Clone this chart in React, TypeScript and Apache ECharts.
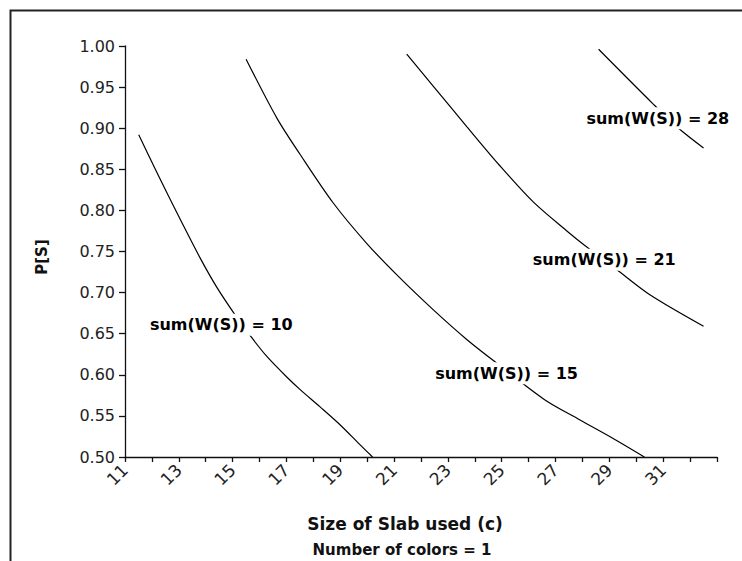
import React, { useEffect, useRef } from "react";
import * as echarts from "echarts";

// x axis: size of slab used (c); y axis: P[S]
const xMin = 11;
const xMax = 33;
const yMin = 0.5;
const yMax = 1.0;

// curve sum(W(S)) = 10
const curve10X = [11.51, 12.1, 12.52, 13.07, 13.81, 14.42, 15.11, 15.69, 16.28, 17.02, 17.51, 18.25, 19.0, 19.73, 20.2];
const curve10Y = [0.892, 0.852, 0.824, 0.788, 0.741, 0.706, 0.672, 0.646, 0.622, 0.597, 0.582, 0.561, 0.539, 0.515, 0.5];

// curve sum(W(S)) = 15
const curve15X = [15.5, 16.65, 17.51, 18.74, 19.98, 21.15, 22.46, 23.7, 24.82, 26.58, 27.91, 29.22, 30.3];
const curve15Y = [0.984, 0.912, 0.868, 0.809, 0.76, 0.72, 0.679, 0.643, 0.614, 0.57, 0.545, 0.521, 0.5];

// curve sum(W(S)) = 21
const curve21X = [21.47, 22.46, 23.7, 24.94, 26.18, 27.42, 28.1, 29.27, 30.52, 32.5];
const curve21Y = [0.99, 0.951, 0.902, 0.854, 0.81, 0.775, 0.757, 0.728, 0.697, 0.659];

// curve sum(W(S)) = 28
const curve28X = [28.6, 30.64, 31.57, 32.5];
const curve28Y = [0.996, 0.929, 0.9, 0.876];

// curve labels
const labelTexts = ["sum(W(S)) = 10", "sum(W(S)) = 15", "sum(W(S)) = 21", "sum(W(S)) = 28"];
const labelX = [14.58, 25.18, 28.81, 30.8];
const labelY = [0.661, 0.602, 0.74, 0.912];

const xTitle = "Size of Slab used (c)";
const subTitle = "Number of colors = 1";
const yTitle = "P[S]";

const zip = (xs: number[], ys: number[]) => xs.map((x, i) => [x, ys[i]]);

const FONT = "DejaVu Sans";

export default function App() {
  const ref = useRef<HTMLDivElement>(null);
  useEffect(() => {
    document.body.style.margin = "0";
    const chart = echarts.init(ref.current!, null, { renderer: "svg" });
    const lineSeries = (name: string, xs: number[], ys: number[]) => ({
      name,
      type: "line",
      data: zip(xs, ys),
      showSymbol: false,
      symbol: "none",
      smooth: 0.3,
      lineStyle: { color: "#000", width: 1.2 },
      z: 2,
      silent: true,
    });
    chart.setOption({
      animation: false,
      backgroundColor: "#fff",
      grid: { left: 125, right: 25, top: 46, bottom: 104 },
      xAxis: {
        type: "value",
        min: xMin,
        max: xMax,
        interval: 1,
        axisLine: { show: true, lineStyle: { color: "#111", width: 1.3 } },
        axisTick: { show: true, length: 5, lineStyle: { color: "#111", width: 1.3 } },
        splitLine: { show: false },
        axisLabel: {
          rotate: 45,
          margin: 10,
          fontFamily: FONT,
          fontSize: 17,
          color: "#222",
          showMaxLabel: true,
          showMinLabel: true,
          formatter: (v: number) => (Math.round(v) % 2 === 1 && v < xMax ? String(Math.round(v)) : ""),
        },
      },
      yAxis: {
        type: "value",
        min: yMin,
        max: yMax,
        interval: 0.05,
        axisLine: { show: true, lineStyle: { color: "#111", width: 1.3 } },
        axisTick: { show: true, length: 6, lineStyle: { color: "#111", width: 1.3 } },
        splitLine: { show: false },
        axisLabel: {
          margin: 10,
          fontFamily: FONT,
          fontSize: 16,
          color: "#222",
          formatter: (v: number) => v.toFixed(2),
        },
      },
      series: [
        lineSeries("sum10", curve10X, curve10Y),
        lineSeries("sum15", curve15X, curve15Y),
        lineSeries("sum21", curve21X, curve21Y),
        lineSeries("sum28", curve28X, curve28Y),
        {
          name: "labels",
          type: "scatter",
          symbol: "rect",
          symbolSize: [146, 22],
          itemStyle: { color: "#fff", opacity: 1 },
          z: 10,
          silent: true,
          emphasis: { disabled: true },
          data: labelTexts.map((t, i) => ({ name: t, value: [labelX[i], labelY[i]] })),
          label: {
            show: true,
            position: "inside",
            formatter: (p: any) => p.name,
            fontFamily: FONT,
            fontWeight: "bold",
            fontSize: 16,
            color: "#000",
            opacity: 1,
          },
        },
      ],
      graphic: [
        {
          type: "rect",
          shape: { x: 10.5, y: 10.5, width: 800, height: 600 },
          style: { fill: "none", stroke: "#222", lineWidth: 2 },
          silent: true,
        },
        {
          type: "text",
          x: 405,
          y: 524,
          style: {
            text: xTitle,
            align: "center",
            verticalAlign: "middle",
            fontFamily: FONT,
            fontWeight: "bold",
            fontSize: 17,
            fill: "#111",
          },
        },
        {
          type: "text",
          x: 402,
          y: 550,
          style: {
            text: subTitle,
            align: "center",
            verticalAlign: "middle",
            fontFamily: FONT,
            fontWeight: "bold",
            fontSize: 15,
            fill: "#111",
          },
        },
        {
          type: "text",
          x: 42,
          y: 257,
          rotation: Math.PI / 2,
          style: {
            text: yTitle,
            align: "center",
            verticalAlign: "middle",
            fontFamily: FONT,
            fontWeight: "bold",
            fontSize: 15,
            fill: "#111",
          },
        },
      ],
    });
    return () => chart.dispose();
  }, []);
  return <div ref={ref} style={{ width: 742, height: 561 }} />;
}
